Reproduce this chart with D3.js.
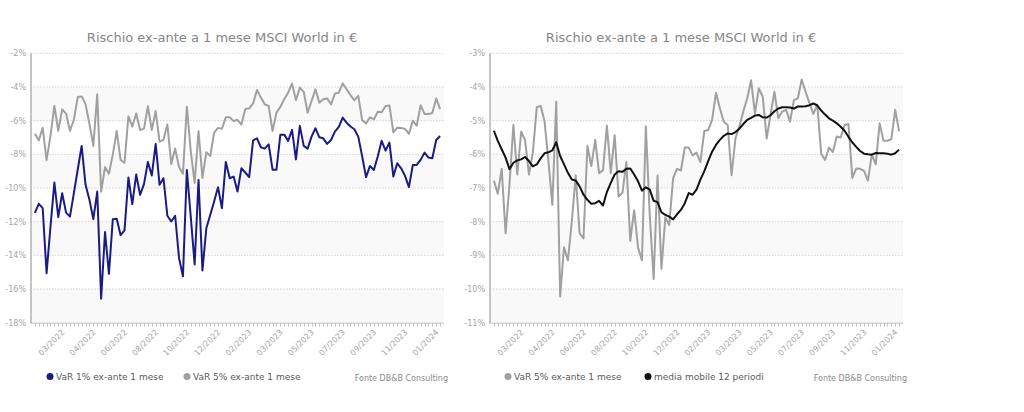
<!DOCTYPE html>
<html><head><meta charset="utf-8">
<script src="https://cdn.jsdelivr.net/npm/d3@7"></script>
<style>
body{margin:0;background:#fff;}
svg{display:block;font-family:"DejaVu Sans",Verdana,sans-serif;}
</style>
</head><body>
<svg id="c" width="1024" height="412"></svg>
<script>
// VaR 1% ex-ante 1 mese (weekly, %)
const var1 = [-11.48,-10.94,-11.2,-15.06,-12.3,-9.68,-11.73,-10.31,-11.46,-11.7,
-10.3,-8.9,-7.5,-9.81,-10.7,-11.85,-10.21,-16.58,-12.62,-15.1,
-11.85,-11.83,-12.8,-12.52,-9.38,-10.96,-9.2,-10.41,-9.77,-8.45,
-9.26,-7.38,-9.81,-9.42,-11.65,-11.99,-11.65,-14.17,-15.25,-8.93,
-11.7,-14.54,-9.52,-14.9,-12.39,-11.6,-10.8,-9.95,-11.2,-8.45,
-9.42,-9.32,-10.21,-8.83,-9.08,-9.36,-7.17,-7.05,-7.58,-7.66,
-7.41,-8.91,-8.91,-6.83,-6.83,-7.2,-6.55,-8.3,-6.31,-7.5,
-7.66,-6.95,-6.45,-6.99,-7.05,-7.38,-7.15,-6.65,-6.37,-5.82,
-6.12,-6.35,-6.51,-6.95,-8.13,-9.36,-8.69,-8.93,-8.13,-7.2,
-7.78,-7.3,-9.32,-8.53,-8.83,-9.28,-9.95,-8.63,-8.63,-8.33,
-7.9,-8.19,-8.23,-7.15,-6.91];
// VaR 5% ex-ante 1 mese
const var5 = [-6.78,-7.17,-6.43,-8.34,-6.9,-5.13,-6.6,-5.33,-5.58,-6.6,
-5.95,-4.6,-4.56,-5.02,-6.2,-7.5,-4.44,-10.22,-8.76,-9.15,
-8.0,-6.62,-8.34,-8.5,-5.75,-6.35,-5.57,-6.56,-6.47,-5.15,
-6.56,-5.43,-7.25,-7.14,-6.23,-8.57,-7.66,-8.77,-9.15,-5.17,
-7.8,-9.7,-6.63,-9.4,-7.87,-8.1,-6.71,-6.43,-6.48,-5.8,
-5.8,-6.03,-5.95,-6.23,-5.31,-5.28,-4.98,-4.18,-4.63,-5.03,
-5.13,-6.62,-5.52,-5.18,-4.73,-4.34,-3.8,-4.78,-4.04,-4.29,
-5.53,-4.83,-4.14,-4.93,-4.73,-4.68,-5.03,-4.39,-4.34,-3.78,
-4.14,-4.48,-4.8,-4.53,-5.98,-6.17,-5.8,-5.93,-5.47,-5.5,
-5.13,-5.1,-6.7,-6.42,-6.43,-6.49,-6.78,-6.0,-6.3,-5.08,
-5.6,-5.6,-5.55,-4.68,-5.32];
// media mobile 12 periodi
const ma12 = [-5.3,-5.6,-5.85,-6.1,-6.44,-6.25,-6.18,-6.15,-6.08,-6.2,
-6.36,-6.3,-6.12,-5.97,-5.94,-5.88,-5.64,-6.05,-6.3,-6.55,
-6.75,-6.78,-6.95,-7.2,-7.35,-7.47,-7.45,-7.38,-7.52,-7.12,
-6.85,-6.6,-6.5,-6.52,-6.43,-6.42,-6.6,-6.8,-7.08,-6.98,
-7.05,-7.38,-7.42,-7.72,-7.8,-7.85,-7.93,-7.78,-7.65,-7.45,
-7.15,-7.2,-7.05,-6.75,-6.5,-6.2,-5.92,-5.72,-5.57,-5.45,
-5.38,-5.4,-5.34,-5.24,-5.1,-4.98,-4.92,-4.85,-4.83,-4.9,
-4.91,-4.84,-4.72,-4.64,-4.6,-4.6,-4.61,-4.64,-4.58,-4.58,
-4.57,-4.54,-4.49,-4.55,-4.7,-4.82,-4.93,-5.0,-5.08,-5.18,
-5.3,-5.48,-5.65,-5.78,-5.9,-5.98,-6.0,-6.01,-5.96,-5.97,
-5.97,-5.98,-6.01,-5.97,-5.86];
// x-axis tick labels (one every 8 weeks, first at the 8th week)
const tickLabels = ["03/2022","04/2022","06/2022","08/2022","10/2022","12/2022","02/2023","03/2023","05/2023","07/2023","09/2023","11/2023","01/2024"];
const firstTickIndex = 7, tickStep = 8;
const leftTicks = [-2,-4,-6,-8,-10,-12,-14,-16,-18];
const rightTicks = [-3,-4,-5,-6,-7,-8,-9,-10,-11];
const titleText = "Rischio ex-ante a 1 mese MSCI World in €";
const creditText = "Fonte DB&B Consulting";

const svg = d3.select("#c");
const n = var1.length;

function drawChart(ox, cfg) {
  const g = svg.append("g").attr("transform", `translate(${ox},0)`);
  const L = 31, R = 444, T = 53.3, B = 322.7;
  const x = d3.scalePoint().domain(d3.range(n)).range([L, R]).padding(1);
  const y = d3.scaleLinear().domain(cfg.domain).range([B, T]);
  const ticks = cfg.ticks;
  // alternate bands
  for (let j = 0; j < ticks.length - 1; j++) {
    if (j % 2 === 1) {
      g.append("rect").attr("x", L).attr("width", R - L)
        .attr("y", y(ticks[j])).attr("height", y(ticks[j+1]) - y(ticks[j]))
        .attr("fill", "#f9f9f9");
    }
  }
  // gridlines
  g.selectAll(".grid").data(ticks.slice(0, -1)).join("line")
    .attr("x1", L).attr("x2", R).attr("y1", d => y(d)).attr("y2", d => y(d))
    .attr("stroke", "#d2d2d2").attr("stroke-dasharray", "1.5,1.5");
  // y labels
  g.selectAll(".yl").data(ticks).join("text")
    .attr("x", 26).attr("y", d => y(d) + 3)
    .attr("text-anchor", "end").attr("font-size", 8).attr("fill", "#a6a6a6")
    .text(d => d + "%");
  // axes
  g.append("line").attr("x1", L).attr("x2", L).attr("y1", T).attr("y2", B + 1)
    .attr("stroke", "#c4c4c4").attr("stroke-width", 2);
  g.append("line").attr("x1", L).attr("x2", R).attr("y1", B + 0.5).attr("y2", B + 0.5)
    .attr("stroke", "#c4c4c4").attr("stroke-width", 1);
  g.selectAll(".tk").data(d3.range(n)).join("line")
    .attr("x1", d => Math.round(x(d)) + 0.5).attr("x2", d => Math.round(x(d)) + 0.5)
    .attr("y1", B).attr("y2", B + 4)
    .attr("stroke", "#c4c4c4").attr("stroke-width", 1);
  // x labels
  g.selectAll(".xl").data(tickLabels).join("text")
    .attr("transform", (d, k) => `translate(${x(firstTickIndex + k * tickStep) + 3},${B + 10}) rotate(-45)`)
    .attr("text-anchor", "end").attr("font-size", 8).attr("fill", "#a6a6a6")
    .text(d => d);
  // lines
  const line = d3.line().x((d, i) => x(i)).y(d => y(d));
  cfg.series.forEach(s => {
    g.append("path").datum(s.data).attr("d", line)
      .attr("fill", "none").attr("stroke", s.color).attr("stroke-width", 2)
      .attr("stroke-linejoin", "round");
  });
  // title
  g.append("text").attr("x", 222).attr("y", 42).attr("text-anchor", "middle")
    .attr("font-size", 13).attr("fill", "#858585").text(titleText);
  // legend
  cfg.legend.forEach(l => {
    g.append("circle").attr("cx", l.x).attr("cy", 376.5).attr("r", 3.5).attr("fill", l.color);
    g.append("text").attr("x", l.x + 6).attr("y", 380).attr("font-size", 9)
      .attr("fill", "#5a5a5a").text(l.name);
  });
  g.append("text").attr("x", 448).attr("y", 381).attr("text-anchor", "end")
    .attr("font-size", 8).attr("fill", "#8a8a8a").text(creditText);
}

const blue = "#1b1b84", gray = "#a0a0a0", black = "#111111";
drawChart(0, {
  domain: [-18, -2], ticks: leftTicks,
  series: [{data: var5, color: gray}, {data: var1, color: blue}],
  legend: [{x: 50, color: blue, name: "VaR 1% ex-ante 1 mese"},
           {x: 187, color: gray, name: "VaR 5% ex-ante 1 mese"}]
});
drawChart(459, {
  domain: [-11, -3], ticks: rightTicks,
  series: [{data: var5, color: gray}, {data: ma12, color: black}],
  legend: [{x: 49, color: gray, name: "VaR 5% ex-ante 1 mese"},
           {x: 189, color: black, name: "media mobile 12 periodi"}]
});
</script>
</body></html>
